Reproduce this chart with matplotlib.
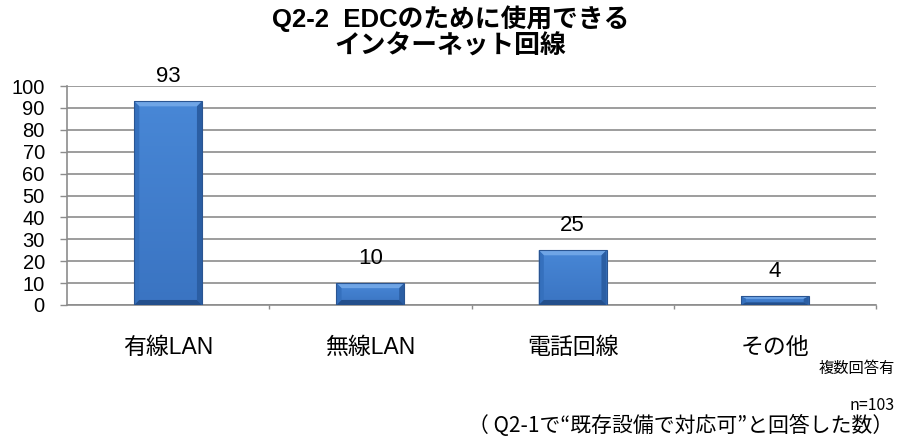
import matplotlib
matplotlib.use("Agg")
import matplotlib.pyplot as plt
import numpy as np
from matplotlib.colors import LinearSegmentedColormap
from matplotlib.patches import Polygon, Rectangle
from matplotlib.transforms import ScaledTranslation

plt.rcParams["font.family"] = ["Liberation Sans", "Noto Sans CJK JP"]

categories = ["有線LAN", "無線LAN", "電話回線", "その他"]
counts = [93, 10, 25, 4]
y_ticks = [0, 10, 20, 30, 40, 50, 60, 70, 80, 90, 100]

title = "Q2-2  EDCのために使用できる\nインターネット回線"
note_multi = "複数回答有"
note_n = "n=103"
note_base = "（ Q2-1で“既存設備で対応可”と回答した数）"

GRID = "#8c8c8c"
TOP = "#6fa5e6"
LEFT = "#3570bd"
RIGHT = "#2b5ea3"
BOTTOM = "#234f8c"
EDGE = "#2a5592"
front = LinearSegmentedColormap.from_list("front", ["#3a74c2", "#4887d6"])


def bevel_bar(ax, xc, h, width=0.335):
    x0, x1 = xc - width / 2, xc + width / 2
    dx = 0.025
    dy = min(2.3, h * 0.3)
    # soft drop shadow under the bar
    for k, a in enumerate([0.10, 0.08, 0.06]):
        off = ScaledTranslation(0, -(1.5 + k * 1.2) / 72, ax.figure.dpi_scale_trans)
        ax.add_patch(Rectangle((x0 + 0.01, 0), width - 0.02, h, facecolor="#555555",
                               edgecolor="none", alpha=a, transform=ax.transData + off,
                               zorder=2))
    grad = np.linspace(0, 1, 64).reshape(-1, 1)
    ax.imshow(grad, cmap=front, origin="lower", aspect="auto",
              extent=(x0, x1, 0, h), zorder=3)
    faces = [
        ([(x0, h), (x1, h), (x1 - dx, h - dy), (x0 + dx, h - dy)], TOP),
        ([(x0, 0), (x0, h), (x0 + dx, h - dy), (x0 + dx, dy)], LEFT),
        ([(x1, 0), (x1, h), (x1 - dx, h - dy), (x1 - dx, dy)], RIGHT),
        ([(x0, 0), (x1, 0), (x1 - dx, dy), (x0 + dx, dy)], BOTTOM),
    ]
    for pts, c in faces:
        ax.add_patch(Polygon(pts, closed=True, facecolor=c, edgecolor="none", zorder=4))
    ax.add_patch(Rectangle((x0, 0), width, h, facecolor="none", edgecolor=EDGE,
                           linewidth=0.8, zorder=5))


fig = plt.figure(figsize=(9.01, 4.41), dpi=100)
ax = fig.add_axes([67 / 901, 1 - 305 / 441, (876 - 67) / 901, (305 - 86) / 441])

x = list(range(len(categories)))
for xi, v in zip(x, counts):
    bevel_bar(ax, xi, v)
    ax.annotate(str(v), (xi, v), xytext=(0, 10), textcoords="offset points",
                ha="center", va="bottom", fontsize=16)

ax.set_xlim(-0.5, len(categories) - 0.5)
ax.set_ylim(0, 100)
ax.set_yticks(y_ticks)
ax.tick_params(axis="y", labelsize=14.5, length=5, width=1, color=GRID, pad=11)
ax.set_xticks(x)
ax.set_xticklabels(categories, fontsize=16.5)
ax.tick_params(axis="x", length=0, pad=22)
ax.set_xticks([i + 0.5 for i in x], minor=True)
ax.tick_params(axis="x", which="minor", length=3, width=1, color=GRID, direction="out")

ax.grid(axis="y", color=GRID, linewidth=1.2, zorder=0)
ax.set_axisbelow(True)
for s in ["top", "right"]:
    ax.spines[s].set_visible(False)
for s in ["left", "bottom"]:
    ax.spines[s].set_color(GRID)
    ax.spines[s].set_linewidth(1.2)

fig.text(0.5, 1 - 32 / 441, title, ha="center", va="center", fontsize=18.5,
         fontweight="bold", linespacing=1.1)

fig.text(895 / 901, 1 - 368 / 441, note_multi, ha="right", va="center",
         fontsize=11, family="Noto Sans CJK JP")
fig.text(895 / 901, 1 - 405 / 441, note_n, ha="right", va="center",
         fontsize=11.5, family="Noto Sans CJK JP")
fig.text(893 / 901, 1 - 426 / 441, note_base, ha="right", va="center",
         fontsize=15, family="Noto Sans CJK JP")

fig.savefig("out.png", dpi=100)
